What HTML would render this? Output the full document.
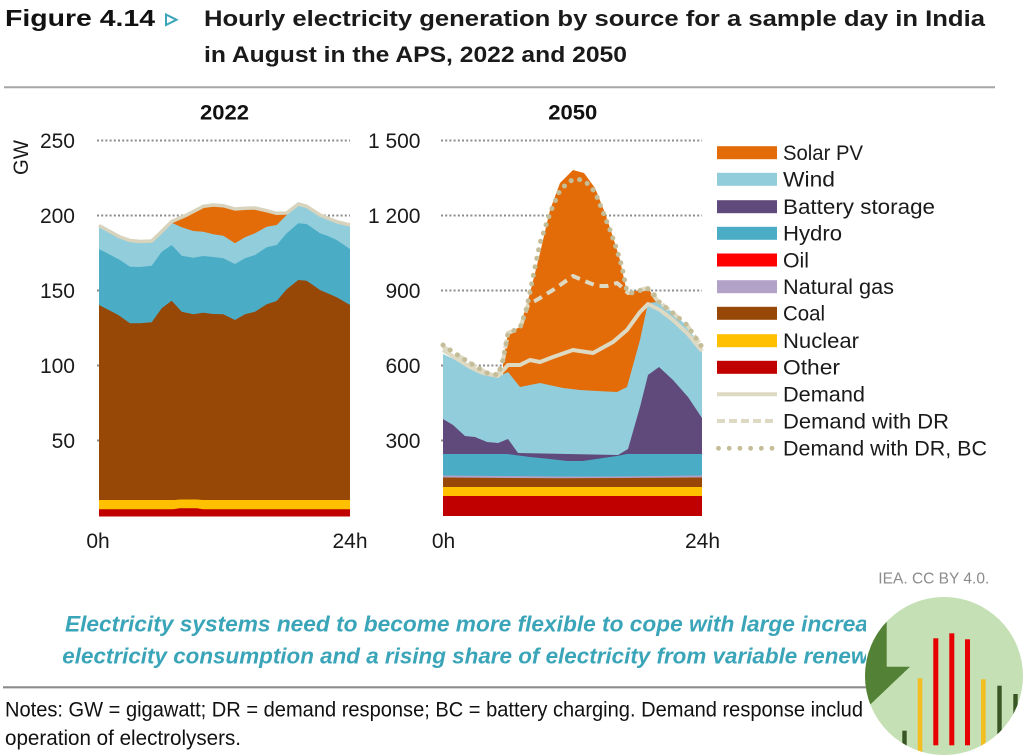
<!DOCTYPE html>
<html>
<head>
<meta charset="utf-8">
<style>
html,body{margin:0;padding:0;background:#fff;}
svg{display:block;}
text{font-family:"Liberation Sans",sans-serif;}
</style>
</head>
<body>
<svg width="1024" height="756" viewBox="0 0 1024 756" xmlns="http://www.w3.org/2000/svg">
<defs>
  <clipPath id="txtclip"><rect x="0" y="590" width="866" height="166"/></clipPath>
  <clipPath id="circ"><circle cx="944" cy="676" r="79"/></clipPath>
</defs>
<rect width="1024" height="756" fill="#fff"/>

<!-- Header -->
<text x="5" y="26" font-size="23" font-weight="bold" fill="#111" textLength="150" lengthAdjust="spacingAndGlyphs">Figure 4.14</text>
<polygon points="166,14.5 176.5,19.8 166,25" fill="none" stroke="#3AA5B9" stroke-width="2"/>
<text x="204" y="26" font-size="22.5" font-weight="bold" fill="#1a1a1a" textLength="781" lengthAdjust="spacingAndGlyphs">Hourly electricity generation by source for a sample day in India</text>
<text x="204" y="62" font-size="22.5" font-weight="bold" fill="#1a1a1a" textLength="423" lengthAdjust="spacingAndGlyphs">in August in the APS, 2022 and 2050</text>
<line x1="4" y1="87.3" x2="995" y2="87.3" stroke="#A6A6A6" stroke-width="2"/>

<!-- Panel titles -->
<text x="200" y="119.3" font-size="21" font-weight="bold" fill="#111" textLength="49" lengthAdjust="spacingAndGlyphs">2022</text>
<text x="548.3" y="119.3" font-size="21" font-weight="bold" fill="#111" textLength="49" lengthAdjust="spacingAndGlyphs">2050</text>

<!-- GW label -->
<text transform="translate(28,157.5) rotate(-90)" text-anchor="middle" font-size="21" fill="#1a1a1a" textLength="35" lengthAdjust="spacingAndGlyphs">GW</text>

<!-- Gridlines -->
<g stroke="#8C8C8C" stroke-width="2" stroke-dasharray="2 2.2">
  <line x1="97" y1="140.5" x2="350" y2="140.5"/>
  <line x1="97" y1="215.5" x2="350" y2="215.5"/>
  <line x1="97" y1="290.5" x2="350" y2="290.5"/>
  <line x1="97" y1="365.5" x2="350" y2="365.5"/>
  <line x1="97" y1="440.5" x2="350" y2="440.5"/>
  <line x1="441" y1="140.5" x2="702" y2="140.5"/>
  <line x1="441" y1="215.5" x2="702" y2="215.5"/>
  <line x1="441" y1="290.5" x2="702" y2="290.5"/>
  <line x1="441" y1="365.5" x2="702" y2="365.5"/>
  <line x1="441" y1="440.5" x2="702" y2="440.5"/>
</g>

<!-- Y labels -->
<g font-size="21" fill="#1a1a1a" text-anchor="end">
  <text x="75" y="148">250</text>
  <text x="75" y="223">200</text>
  <text x="75" y="298">150</text>
  <text x="75" y="373">100</text>
  <text x="75" y="448">50</text>
  <text x="420.5" y="148">1 500</text>
  <text x="420.5" y="223">1 200</text>
  <text x="420.5" y="298">900</text>
  <text x="420.5" y="373">600</text>
  <text x="420.5" y="448">300</text>
</g>

<!-- X labels -->
<g font-size="21" fill="#1a1a1a" text-anchor="middle">
  <text x="98" y="548">0h</text>
  <text x="350" y="548">24h</text>
  <text x="443.5" y="548">0h</text>
  <text x="702.5" y="548">24h</text>
</g>

<!-- ===== 2022 chart ===== -->
<path fill="#E36C09" d="M171.7,222.7 L186.7,216 L203.3,207.3 L213.3,206 L223.3,206.7 L235,210 L245,209.3 L255,209 L266.7,211.7 L276.7,214.3 L286.7,214 L298.3,205 L298.3,300 L171.7,300 Z"/>
<path fill="#92CDDC" d="M99,226.7 L110,232.7 L120,238.3 L130,241.7 L140,242.7 L151.7,242 L161.7,232.7 L171.7,222.7 L181.7,227.3 L193.3,231 L203.3,231.7 L213.3,234.3 L223.3,235.7 L235,243.3 L245,237.3 L255,233.3 L266.7,226.7 L276.7,225 L286.7,215 L298.3,205 L306.7,207.3 L320,216 L336.7,222.7 L350,226 L350,516.5 L99,516.5 Z"/>
<path fill="#4BACC6" d="M99,249 L110,254.7 L120,260 L130,266.7 L140,267 L151.7,265.7 L161.7,251.7 L171.7,245 L181.7,255.7 L193.3,257.7 L203.3,256 L213.3,257 L223.3,258.3 L235,264 L245,258.3 L255,255 L266.7,247.3 L276.7,245 L286.7,233.3 L298.3,223.3 L306.7,224 L320,233.3 L328,236 L336.7,240 L350,249 L350,516.5 L99,516.5 Z"/>
<path fill="#974706" d="M99,305 L118.3,315 L130,323.3 L140,323.3 L151.7,322.3 L161.7,308.3 L171.7,300.7 L181.7,311.7 L193.3,314.3 L203.3,312.7 L213.3,314 L223.3,314.3 L235,320 L245,314.3 L255,311.7 L266.7,304.3 L276.7,301 L286.7,289.3 L298.3,280 L306.7,280.7 L320,290 L336.7,297.3 L350,305 L350,516.5 L99,516.5 Z"/>
<path fill="#FFC000" d="M99,500 L175,500 L180,499.5 L197,499.5 L203,500 L350,500 L350,516.5 L99,516.5 Z"/>
<path fill="#C00000" d="M99,509.3 L173,509.3 L180,508.3 L197,508.3 L203,509.3 L350,509.3 L350,516.5 L99,516.5 Z"/>
<polyline fill="none" stroke="#D8D3BD" stroke-width="3.5" stroke-linejoin="round" points="99,225.5 110,231.5 120,237 130,240.5 140,241.5 151.7,241 161.7,231.5 171.7,221.5 186.7,215 203.3,206.3 213.3,205 223.3,205.7 235,209 245,208.3 255,208 266.7,210.7 276.7,213.3 286.7,213 298.3,204 306.7,206.3 320,215 336.7,221.7 350,225"/>

<!-- ===== 2050 chart ===== -->
<path fill="#E36C09" d="M503,362 L508,333 L520,327 L530,293 L540,253 L550,210 L560,183 L573,170 L584,173 L595,188 L605,213 L613,237 L620,260 L627,293 L640,290 L648,288 L657,302 L657,400 L503,400 Z"/>
<path fill="#92CDDC" d="M443,354 L460,362 L473,370 L487,375 L498,377 L508,372 L520,387 L540,383 L563,388 L580,390 L597,391 L617,392 L627,387 L640,340 L648,303 L657,302 L665,306 L673,313 L687,326 L702,350 L702,516 L443,516 Z"/>
<path fill="#604A7B" d="M443,419 L453,425 L465,436 L475,437 L487,442 L498,443 L508,439 L518,453 L618,455 L628,449 L640,407 L648,375 L659,367 L673,380 L688,397 L702,418 L702,516 L443,516 Z"/>
<path fill="#4BACC6" d="M443,454 L507,454 L530,457 L550,459 L567,461 L583,461 L603,458 L617,456 L627,454 L702,454 L702,516 L443,516 Z"/>
<path fill="#B3A2C7" d="M443,475.5 L560,476.5 L610,476.5 L702,475.5 L702,516 L443,516 Z"/>
<path fill="#974706" d="M443,477.5 L560,478.3 L620,478 L702,477.5 L702,516 L443,516 Z"/>
<path fill="#FFC000" d="M443,487 L702,487 L702,516 L443,516 Z"/>
<path fill="#C00000" d="M443,496 L702,496 L702,516 L443,516 Z"/>

<polyline fill="none" stroke="#DDD9C3" stroke-width="4" stroke-linejoin="round" points="443,350 470,367 483,373 498,376 508,365 520,365 530,360 540,362 553,357 573,350 593,353 613,342 627,330 640,312 648,304 660,310 673,320 687,333 702,351"/>
<polyline fill="none" stroke="#DDD9C3" stroke-width="4" stroke-dasharray="9 6" stroke-linejoin="round" points="443,347 453,352 470,363 487,373 498,375 503,360 508,333 520,328 528,305 540,298 553,290 573,276 587,282 597,286 607,286 617,283 623,288 628,293 640,290 648,288 657,300 673,313 687,325 702,347"/>
<polyline fill="none" stroke="#C4BD97" stroke-width="5" stroke-dasharray="0.1 8.6" stroke-linecap="round" stroke-linejoin="round" points="443,345 453,352 470,363 487,373 498,375 503,360 508,333 520,328 527,307 533,277 540,243 550,213 560,190 570,181 578,179 586,182 595,192 603,212 610,230 617,250 622,267 627,292 633,293 647,288 653,293 660,303 673,313 687,325 702,347"/>

<!-- Legend -->
<g>
  <rect x="717" y="146.2" width="60" height="13" fill="#E36C09"/>
  <rect x="717" y="172.8" width="60" height="13" fill="#92CDDC"/>
  <rect x="717" y="200.2" width="60" height="13" fill="#604A7B"/>
  <rect x="717" y="226.8" width="60" height="13" fill="#4BACC6"/>
  <rect x="717" y="253.5" width="60" height="13" fill="#FF0000"/>
  <rect x="717" y="280.2" width="60" height="13" fill="#B3A2C7"/>
  <rect x="717" y="306.8" width="60" height="13" fill="#974706"/>
  <rect x="717" y="334.2" width="60" height="13" fill="#FFC000"/>
  <rect x="717" y="360.8" width="60" height="13" fill="#C00000"/>
  <line x1="717" y1="394.3" x2="777" y2="394.3" stroke="#DDD9C3" stroke-width="4"/>
  <line x1="717" y1="421" x2="777" y2="421" stroke="#DDD9C3" stroke-width="4" stroke-dasharray="8 4"/>
  <g fill="#C4BD97">
    <circle cx="718.5" cy="448.3" r="2.4"/>
    <circle cx="729.2" cy="448.3" r="2.4"/>
    <circle cx="739.9" cy="448.3" r="2.4"/>
    <circle cx="750.6" cy="448.3" r="2.4"/>
    <circle cx="761.3" cy="448.3" r="2.4"/>
    <circle cx="772" cy="448.3" r="2.4"/>
  </g>
  <g font-size="21.5" fill="#1a1a1a">
    <text x="783" y="160" textLength="80" lengthAdjust="spacingAndGlyphs">Solar PV</text>
    <text x="783" y="186.6" textLength="52" lengthAdjust="spacingAndGlyphs">Wind</text>
    <text x="783" y="214" textLength="152" lengthAdjust="spacingAndGlyphs">Battery storage</text>
    <text x="783" y="240.6" textLength="59" lengthAdjust="spacingAndGlyphs">Hydro</text>
    <text x="783" y="267.3" textLength="26" lengthAdjust="spacingAndGlyphs">Oil</text>
    <text x="783" y="294" textLength="111" lengthAdjust="spacingAndGlyphs">Natural gas</text>
    <text x="783" y="320.6" textLength="42" lengthAdjust="spacingAndGlyphs">Coal</text>
    <text x="783" y="348" textLength="76" lengthAdjust="spacingAndGlyphs">Nuclear</text>
    <text x="783" y="374.6" textLength="57" lengthAdjust="spacingAndGlyphs">Other</text>
    <text x="783" y="401.6" textLength="82" lengthAdjust="spacingAndGlyphs">Demand</text>
    <text x="783" y="428.3" textLength="166" lengthAdjust="spacingAndGlyphs">Demand with DR</text>
    <text x="783" y="455.6" textLength="204" lengthAdjust="spacingAndGlyphs">Demand with DR, BC</text>
  </g>
</g>

<!-- Credit -->
<text x="878.3" y="583.3" font-size="16" fill="#8C8C8C" textLength="111" lengthAdjust="spacingAndGlyphs">IEA. CC BY 4.0.</text>

<!-- Key message -->
<g clip-path="url(#txtclip)">
  <text x="65" y="631.7" font-size="22" font-weight="bold" font-style="italic" fill="#3AA5B9" textLength="803" lengthAdjust="spacingAndGlyphs">Electricity systems need to become more flexible to cope with large increa</text>
  <text x="62.3" y="663.3" font-size="22" font-weight="bold" font-style="italic" fill="#3AA5B9" textLength="806" lengthAdjust="spacingAndGlyphs">electricity consumption and a rising share of electricity from variable renew</text>
</g>
<line x1="3" y1="687.3" x2="870" y2="687.3" stroke="#8C8C8C" stroke-width="2.2"/>

<!-- Notes -->
<g clip-path="url(#txtclip)">
  <text x="5" y="716.7" font-size="21" fill="#111" textLength="858" lengthAdjust="spacingAndGlyphs">Notes: GW = gigawatt; DR = demand response; BC = battery charging. Demand response includ</text>
</g>
<text x="5" y="745" font-size="21" fill="#111" textLength="236" lengthAdjust="spacingAndGlyphs">operation of electrolysers.</text>

<!-- Circle icon -->
<circle cx="944" cy="676" r="79" fill="#C5E0B4"/>
<g clip-path="url(#circ)">
  <polygon points="855,595 886.7,595 886.7,666.7 910,666.7 855,719" fill="#538135"/>
  <rect x="902.3" y="730.7" width="4.4" height="30" fill="#375623"/>
  <rect x="917.7" y="678.3" width="4.6" height="80" fill="#F2BE22"/>
  <rect x="933.3" y="638.3" width="5" height="107" fill="#E60000"/>
  <rect x="949.3" y="633.3" width="5" height="112" fill="#E60000"/>
  <rect x="965" y="639.3" width="5" height="106" fill="#E60000"/>
  <rect x="981" y="679.3" width="4.7" height="80" fill="#F2BE22"/>
  <rect x="997.3" y="685.7" width="4.4" height="80" fill="#375623"/>
  <rect x="1013.3" y="694" width="4.4" height="80" fill="#375623"/>
</g>
</svg>
</body>
</html>
